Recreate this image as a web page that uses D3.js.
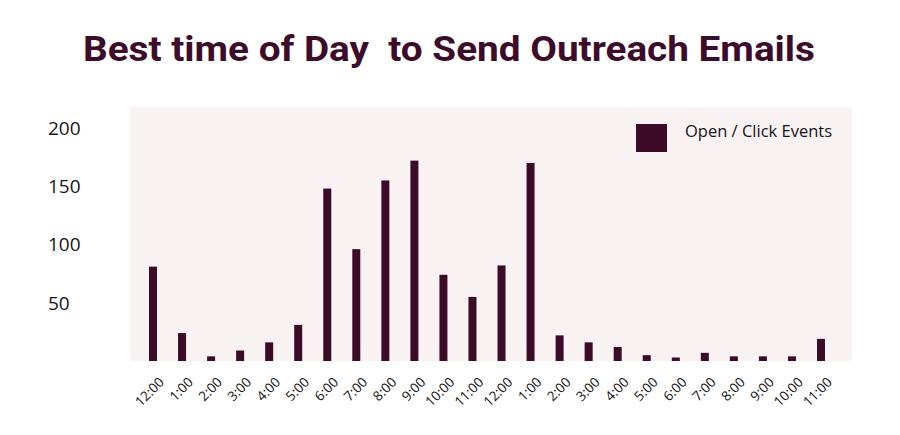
<!DOCTYPE html>
<html>
<head>
<meta charset="utf-8">
<script src="https://cdnjs.cloudflare.com/ajax/libs/d3/7.8.5/d3.min.js"></script>
<style>
  body { margin: 0; background: #fff; }
  svg { display: block; }
</style>
</head>
<body>
<script>
var width = 900, height = 435;

// hours of the day, midnight to 11pm
var hours = ["12:00","1:00","2:00","3:00","4:00","5:00","6:00","7:00","8:00","9:00","10:00","11:00",
             "12:00","1:00","2:00","3:00","4:00","5:00","6:00","7:00","8:00","9:00","10:00","11:00"];
var events = [81, 24, 4, 9, 16, 31, 148, 96, 155, 172, 74, 55,
              82, 170, 22, 16, 12, 5, 3, 7, 4, 4, 4, 19];
var yTicks = [50, 100, 150, 200];

var barColor = "#3b0b27";

var svg = d3.select("body").append("svg")
    .attr("width", width)
    .attr("height", height);

svg.append("text")
    .attr("x", 449)
    .attr("y", 61)
    .attr("text-anchor", "middle")
    .attr("textLength", 732)
    .attr("lengthAdjust", "spacingAndGlyphs")
    .style("font-family", "Roboto, sans-serif")
    .style("font-weight", 700)
    .style("font-size", "35px")
    .style("fill", "#3d0c2b")
    .style("white-space", "pre")
    .text("Best time of Day  to Send Outreach Emails");

var x = d3.scalePoint()
    .domain(d3.range(hours.length))
    .range([153, 821]);

var y = d3.scaleLinear()
    .domain([0, 200])
    .range([361, 128]);

// plot background
svg.append("rect")
    .attr("x", 130)
    .attr("y", 107)
    .attr("width", 722)
    .attr("height", y(0) - 107)
    .style("fill", "#f8f2f2");

svg.append("g").selectAll("rect")
    .data(events)
    .enter().append("rect")
    .attr("x", function(d, i){ return x(i) - 4; })
    .attr("y", function(d){ return y(d); })
    .attr("width", 8)
    .attr("height", function(d){ return y(0) - y(d); })
    .style("fill", barColor);

// y tick labels, left aligned
svg.append("g").selectAll("text")
    .data(yTicks)
    .enter().append("text")
    .attr("x", 48)
    .attr("y", function(d){ return y(d); })
    .attr("dy", "0.36em")
    .style("font-family", "'Open Sans', sans-serif")
    .style("font-size", "19px")
    .style("fill", "#151515")
    .text(function(d){ return d; });

// x labels, rotated
svg.append("g").selectAll("text")
    .data(hours)
    .enter().append("text")
    .attr("transform", function(d, i){ return "translate(" + (x(i) + 12) + ",383) rotate(-45)"; })
    .attr("text-anchor", "end")
    .style("font-family", "'Open Sans', sans-serif")
    .style("font-size", "13.5px")
    .style("fill", "#111")
    .text(function(d){ return d; });

// legend
var legend = svg.append("g");
legend.append("rect")
    .attr("x", 636)
    .attr("y", 124)
    .attr("width", 31)
    .attr("height", 28)
    .style("fill", barColor);
legend.append("text")
    .attr("x", 685)
    .attr("y", 131)
    .attr("dy", "0.36em")
    .style("font-family", "'Open Sans', sans-serif")
    .style("font-size", "16.5px")
    .style("fill", "#151515")
    .text("Open / Click Events");
</script>
</body>
</html>
